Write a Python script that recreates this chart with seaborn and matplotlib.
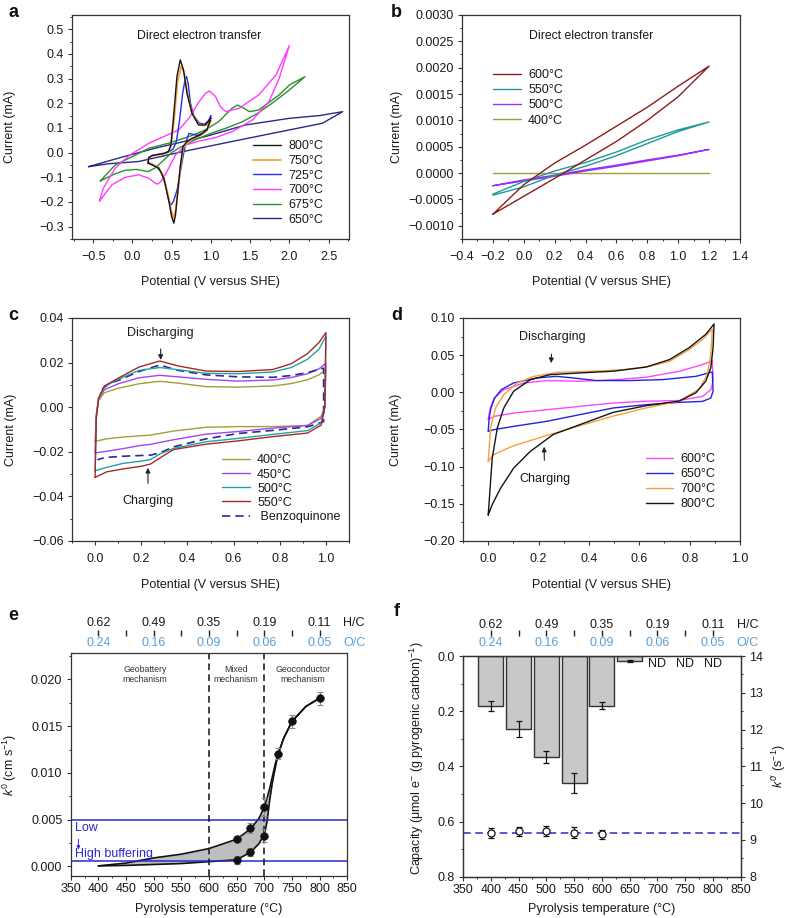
import matplotlib
matplotlib.use("Agg")
import matplotlib.pyplot as plt
import matplotlib.transforms as mtransforms
from matplotlib.ticker import MultipleLocator, FuncFormatter
import pandas as pd
import seaborn as sns

# ======================= DATA =======================
# ---- panel a (direct electron transfer, 650-800 C) ----
a_800_x = [0.20, 0.205, 0.25, 0.32, 0.40, 0.46, 0.49, 0.524, 0.567, 0.609, 0.651, 0.695, 0.758, 0.843, 0.928, 0.984, 1.00,
           0.95, 0.865, 0.758, 0.695, 0.643, 0.609, 0.58, 0.55, 0.528, 0.50, 0.465, 0.40, 0.336, 0.251, 0.20]
a_800_y = [-0.043, -0.022, -0.012, -0.008, -0.004, 0.005, 0.03, 0.146, 0.308, 0.376, 0.335, 0.241, 0.16, 0.112, 0.112, 0.133, 0.14,
           0.092, 0.072, 0.058, 0.045, 0.024, -0.057, -0.151, -0.25, -0.286, -0.26, -0.198, -0.104, -0.063, -0.05, -0.043]
a_750_x = [0.20, 0.205, 0.25, 0.32, 0.40, 0.46, 0.49, 0.53, 0.575, 0.625, 0.66, 0.70, 0.76, 0.84, 0.93, 0.98, 1.00,
           0.95, 0.87, 0.76, 0.70, 0.65, 0.615, 0.585, 0.55, 0.52, 0.49, 0.46, 0.40, 0.34, 0.25, 0.20]
a_750_y = [-0.042, -0.022, -0.013, -0.009, -0.004, 0.005, 0.025, 0.13, 0.29, 0.352, 0.32, 0.24, 0.16, 0.115, 0.11, 0.125, 0.13,
           0.09, 0.07, 0.055, 0.04, 0.02, -0.05, -0.14, -0.235, -0.265, -0.23, -0.18, -0.10, -0.062, -0.048, -0.042]
a_725_x = [0.20, 0.205, 0.25, 0.35, 0.45, 0.52, 0.56, 0.60, 0.64, 0.67, 0.69, 0.71, 0.74, 0.78, 0.85, 0.92, 0.97, 1.00,
           0.96, 0.90, 0.82, 0.76, 0.72, 0.70, 0.66, 0.62, 0.57, 0.52, 0.49, 0.46, 0.42, 0.37, 0.30, 0.24, 0.20]
a_725_y = [-0.04, -0.02, -0.012, -0.005, 0.0, 0.015, 0.045, 0.13, 0.24, 0.295, 0.308, 0.28, 0.20, 0.15, 0.12, 0.115, 0.13, 0.15,
           0.10, 0.08, 0.07, 0.075, 0.078, 0.06, 0.01, -0.06, -0.15, -0.20, -0.212, -0.19, -0.13, -0.08, -0.055, -0.045, -0.04]
a_700_x = [-0.42, -0.37, -0.22, -0.03, 0.21, 0.40, 0.59, 0.72, 0.85, 0.93, 0.98, 1.06, 1.12, 1.19, 1.36, 1.61, 1.83, 2.00,
           1.87, 1.74, 1.53, 1.27, 1.06, 0.85, 0.68, 0.55, 0.44, 0.36, 0.32, 0.28, 0.21, 0.08, -0.09, -0.26, -0.42]
a_700_y = [-0.196, -0.144, -0.063, -0.009, 0.038, 0.065, 0.092, 0.139, 0.207, 0.24, 0.25, 0.227, 0.186, 0.166, 0.18, 0.234, 0.315, 0.434,
           0.301, 0.207, 0.132, 0.085, 0.061, 0.047, 0.031, -0.009, -0.077, -0.118, -0.128, -0.122, -0.104, -0.09, -0.10, -0.13, -0.196]
a_675_x = [-0.41, -0.22, 0.0, 0.21, 0.46, 0.72, 0.93, 1.10, 1.27, 1.34, 1.42, 1.49, 1.61, 1.87, 2.00, 2.20,
           2.00, 1.80, 1.60, 1.40, 1.20, 1.00, 0.80, 0.60, 0.50, 0.40, 0.30, 0.20, 0.05, -0.10, -0.25, -0.41]
a_675_y = [-0.115, -0.05, -0.016, 0.018, 0.038, 0.065, 0.092, 0.126, 0.18, 0.193, 0.18, 0.166, 0.173, 0.234, 0.274, 0.308,
           0.254, 0.205, 0.16, 0.125, 0.10, 0.078, 0.052, 0.02, 0.0, -0.03, -0.06, -0.077, -0.068, -0.072, -0.09, -0.115]
a_650_x = [-0.56, -0.13, 0.29, 0.93, 1.44, 2.00, 2.38, 2.68,
           2.42, 2.00, 1.36, 0.64, 0.08, -0.30, -0.56]
a_650_y = [-0.057, -0.018, 0.018, 0.065, 0.112, 0.139, 0.15, 0.166,
           0.119, 0.092, 0.051, 0.004, -0.036, -0.045, -0.057]
a_labels = ["800°C", "750°C", "725°C", "700°C", "675°C", "650°C"]

# ---- panel b (direct electron transfer, 400-600 C) ----
b_x = [-0.2, 0.0, 0.2, 0.4, 0.6, 0.8, 1.0, 1.2]
b_xr = [1.2, 1.0, 0.8, 0.6, 0.4, 0.2, 0.0, -0.2]
b_600_up = [-0.00078, -0.00022, 0.00019, 0.00053, 0.00089, 0.00125, 0.00165, 0.00203]
b_600_dn = [0.00203, 0.00145, 0.00100, 0.00060, 0.00025, -0.00010, -0.00044, -0.00078]
b_550_up = [-0.00040, -0.00016, 0.00004, 0.00020, 0.00040, 0.00063, 0.00082, 0.00097]
b_550_dn = [0.00097, 0.00079, 0.00056, 0.00033, 0.00013, -0.00004, -0.00026, -0.00042]
b_500_up = [-0.00024, -0.00013, -0.00004, 0.00006, 0.00015, 0.00025, 0.00034, 0.00045]
b_500_dn = [0.00045, 0.00033, 0.00023, 0.00013, 0.00004, -0.00006, -0.00015, -0.00024]
b_400_up = [0, 0, 0, 0, 0, 0, 0, 0]
b_labels = ["600°C", "550°C", "500°C", "400°C"]

# ---- panel c (mediated, 400-550 C) ----
c_xu = [0.0, 0.005, 0.015, 0.04, 0.1, 0.19, 0.28, 0.36, 0.48, 0.62, 0.77, 0.85, 0.92, 0.97, 1.0]
c_xd = [1.0, 0.995, 0.98, 0.92, 0.77, 0.62, 0.48, 0.34, 0.28, 0.24, 0.2, 0.12, 0.05, 0.0]
c_550_up = [-0.0315, -0.005, 0.004, 0.0095, 0.013, 0.018, 0.0207, 0.0185, 0.0162, 0.016, 0.0169, 0.0195, 0.024, 0.029, 0.0335]
c_550_dn = [0.0335, 0.0, -0.008, -0.0116, -0.0132, -0.0151, -0.0166, -0.019, -0.0228, -0.0255, -0.0265, -0.0277, -0.029, -0.0315]
c_500_up = [-0.0285, -0.005, 0.004, 0.0092, 0.0125, 0.0165, 0.0178, 0.0168, 0.0152, 0.015, 0.0158, 0.0178, 0.0215, 0.026, 0.0318]
c_500_dn = [0.0318, 0.0, -0.007, -0.0105, -0.0122, -0.014, -0.0155, -0.0185, -0.021, -0.0235, -0.0242, -0.0252, -0.027, -0.0285]
c_450_up = [-0.0205, -0.004, 0.004, 0.0078, 0.0105, 0.0132, 0.0143, 0.0136, 0.0125, 0.0117, 0.0122, 0.0133, 0.015, 0.0172, 0.0197]
c_450_dn = [0.0197, 0.0, -0.005, -0.0082, -0.0094, -0.0109, -0.0121, -0.0146, -0.0158, -0.0167, -0.0171, -0.0186, -0.0198, -0.0205]
c_400_up = [-0.0153, -0.003, 0.003, 0.0065, 0.0085, 0.0105, 0.0116, 0.0108, 0.0092, 0.009, 0.0095, 0.0106, 0.0123, 0.0145, 0.0168]
c_400_dn = [0.0168, 0.0, -0.004, -0.0082, -0.0087, -0.0087, -0.009, -0.0107, -0.0118, -0.0125, -0.0128, -0.0134, -0.0142, -0.0153]
c_bq_xu = [0.03, 0.06, 0.1, 0.19, 0.28, 0.36, 0.48, 0.62, 0.77, 0.85, 0.92, 0.99]
c_bq_up = [0.008, 0.0105, 0.012, 0.016, 0.0189, 0.0165, 0.0145, 0.0136, 0.0134, 0.0142, 0.0155, 0.0175]
c_bq_xd = [0.99, 0.92, 0.77, 0.62, 0.48, 0.34, 0.28, 0.24, 0.12, 0.04, 0.01]
c_bq_dn = [-0.0065, -0.0088, -0.0104, -0.0118, -0.0142, -0.0178, -0.0205, -0.0215, -0.022, -0.0226, -0.0236]
c_labels = ["400°C", "450°C", "500°C", "550°C", " Benzoquinone"]

# ---- panel d (mediated, 600-800 C) ----
d_800_x = [0.0, 0.016, 0.036, 0.062, 0.101, 0.167, 0.246, 0.364, 0.496, 0.627, 0.72, 0.798, 0.864, 0.897,
           0.893, 0.884, 0.864, 0.825, 0.759, 0.627, 0.496, 0.364, 0.259, 0.167, 0.101, 0.049, 0.016, 0.0]
d_800_y = [-0.165, -0.0885, -0.0481, -0.021, 0.0014, 0.017, 0.0238, 0.0261, 0.0284, 0.034, 0.044, 0.06, 0.078, 0.092,
           0.06, 0.033, 0.015, -0.0005, -0.0117, -0.018, -0.027, -0.0435, -0.0566, -0.0795, -0.102, -0.129, -0.151, -0.165]
d_700_x = [0.0, 0.0094, 0.029, 0.062, 0.114, 0.18, 0.272, 0.404, 0.535, 0.641, 0.72, 0.798, 0.851, 0.89,
           0.884, 0.871, 0.838, 0.759, 0.627, 0.496, 0.364, 0.233, 0.10, 0.02, 0.0]
d_700_y = [-0.093, -0.048, -0.021, -0.0031, 0.0125, 0.0214, 0.0268, 0.0282, 0.0304, 0.0349, 0.0416, 0.0574, 0.071, 0.085,
           0.051, 0.0245, 0.0043, -0.0117, -0.021, -0.032, -0.045, -0.058, -0.072, -0.084, -0.093]
d_650_x = [0.0, 0.004, 0.011, 0.026, 0.052, 0.10, 0.193, 0.272, 0.338, 0.43, 0.562, 0.693, 0.825, 0.89,
           0.893, 0.884, 0.851, 0.759, 0.627, 0.496, 0.364, 0.233, 0.101, 0.022, 0.0]
d_650_y = [-0.0524, -0.034, -0.021, -0.0075, 0.0036, 0.0125, 0.0193, 0.0215, 0.0193, 0.0158, 0.0158, 0.0171, 0.0215, 0.0274,
           0.0013, -0.0077, -0.0122, -0.0135, -0.0166, -0.0211, -0.030, -0.039, -0.0458, -0.0503, -0.0524]
d_600_x = [0.0, 0.008, 0.024, 0.062, 0.141, 0.233, 0.364, 0.496, 0.627, 0.759, 0.851, 0.89,
           0.893, 0.884, 0.851, 0.759, 0.627, 0.496, 0.364, 0.233, 0.101, 0.022, 0.0]
d_600_y = [-0.0368, -0.021, -0.0075, 0.0036, 0.0125, 0.0158, 0.0149, 0.0167, 0.0203, 0.0283, 0.0373, 0.0427,
           0.0149, 0.0036, -0.0054, -0.011, -0.012, -0.0144, -0.0189, -0.0234, -0.0279, -0.0324, -0.0368]
d_labels = ["600°C", "650°C", "700°C", "800°C"]

# ---- panel e (k0 vs pyrolysis temperature) ----
e_temp_hi = [650, 675, 700, 725, 750, 800]
e_k_hi = [0.00295, 0.0041, 0.00634, 0.01204, 0.0155, 0.0180]
e_err_hi = [0.0003, 0.0005, 0.0010, 0.0006, 0.0007, 0.0007]
e_temp_lo = [650, 675, 700]
e_k_lo = [0.0007, 0.00153, 0.00327]
e_err_lo = [0.0004, 0.0004, 0.0007]
e_fit_x = [400, 450, 500, 550, 600, 625, 650, 675, 690, 700, 705, 710, 715, 720, 725, 735, 750, 775, 800]
e_fit_hi = [0.00005, 0.00035, 0.0009, 0.0013, 0.0019, 0.0024, 0.0029, 0.0040, 0.0051, 0.0063, 0.0073, 0.0084, 0.0097, 0.0110, 0.0120,
            0.0137, 0.0155, 0.0171, 0.0180]
e_fit_lo = [0.00005, 0.0001, 0.0002, 0.0003, 0.0005, 0.0006, 0.0007, 0.0015, 0.0024, 0.0034, 0.0048, 0.0072, 0.0091, 0.0106, 0.0120,
            0.0137, 0.0155, 0.0171, 0.0180]
e_buffer_levels = [0.005, 0.00055]
e_regime_bounds = [600, 700]
e_regime_x = [484, 649, 770]
e_regime_text = ["Geobattery\nmechanism", "Mixed\nmechanism", "Geoconductor\nmechanism"]

# ---- top scales (H/C, O/C) shared by e and f ----
top_temps = [400, 500, 600, 700, 800]
top_hc = ["0.62", "0.49", "0.35", "0.19", "0.11"]
top_oc = ["0.24", "0.16", "0.09", "0.06", "0.05"]
top_tick_temps = [400, 450, 500, 550, 600, 650, 700, 750, 800]

# ---- panel f (capacity bars + k0') ----
f_temps = [400, 450, 500, 550, 600, 650]
f_cap = [0.18, 0.266, 0.367, 0.459, 0.18, 0.018]
f_cap_err = [0.018, 0.029, 0.021, 0.036, 0.012, 0.002]
f_nd_temps = [700, 750, 800]
f_k_temps = [400, 450, 500, 550, 600]
f_k = [9.18, 9.23, 9.25, 9.2, 9.15]
f_k_err = [0.14, 0.12, 0.14, 0.14, 0.12]
f_k_mean = 9.18

# ======================= STYLE =======================
sns.set_theme(style="ticks")
plt.rcParams['font.family'] = ['Liberation Sans', 'DejaVu Sans']
FS = 9
plt.rcParams.update({
    'mathtext.fontset': 'custom',
    'mathtext.rm': 'Liberation Sans',
    'mathtext.it': 'Liberation Sans:italic',
    'mathtext.bf': 'Liberation Sans:bold',
    'axes.edgecolor': '#333333',
    'axes.linewidth': 0.9,
    'xtick.color': '#333333',
    'ytick.color': '#333333',
    'xtick.labelcolor': '#1a1a1a',
    'ytick.labelcolor': '#1a1a1a',
    'xtick.major.size': 3.0,
    'ytick.major.size': 3.0,
    'xtick.minor.size': 1.6,
    'ytick.minor.size': 1.6,
    'xtick.major.width': 0.8,
    'ytick.major.width': 0.8,
    'xtick.minor.width': 0.7,
    'ytick.minor.width': 0.7,
    'xtick.direction': 'out',
    'ytick.direction': 'out',
    'font.size': FS,
    'axes.labelsize': FS,
    'xtick.labelsize': FS,
    'ytick.labelsize': FS,
    'legend.fontsize': FS,
})

LW = 1.0
TXT = '#1a1a1a'


def fmt(nd):
    return FuncFormatter(lambda v, p: (f"{v:.{nd}f}").replace('-', '\u2212'))


def draw(ax, x, y, color, label=None, ls='-', lw=LW):
    df = pd.DataFrame({"E": x, "I": y})
    sns.lineplot(data=df, x="E", y="I", sort=False, estimator=None, color=color,
                 linewidth=lw, linestyle=ls, label=label, ax=ax)


def style_ax(ax, xmaj, xmin, ymaj, ymin, xnd, ynd, xpad=6.0, ypad=3.0):
    ax.xaxis.set_major_locator(MultipleLocator(xmaj))
    ax.xaxis.set_minor_locator(MultipleLocator(xmin))
    ax.yaxis.set_major_locator(MultipleLocator(ymaj))
    ax.yaxis.set_minor_locator(MultipleLocator(ymin))
    ax.xaxis.set_major_formatter(fmt(xnd))
    ax.yaxis.set_major_formatter(fmt(ynd))
    ax.tick_params(axis='x', which='both', top=False, pad=xpad)
    ax.tick_params(axis='y', which='both', right=False, pad=ypad)


def legend(ax, handles, labels, anchor, spacing=0.21):
    leg = ax.legend(handles, labels, loc='upper left', bbox_to_anchor=anchor, frameon=False,
                    fontsize=FS, handlelength=2.2, handletextpad=0.6, labelspacing=spacing,
                    borderpad=0, borderaxespad=0)
    for t in leg.get_texts():
        t.set_color(TXT)
    return leg


fig = plt.figure(figsize=(7.88, 9.18), dpi=100)
ax_a = fig.add_axes([0.0914, 0.7397, 0.3515, 0.2440])
ax_b = fig.add_axes([0.5863, 0.7397, 0.3528, 0.2440])
ax_c = fig.add_axes([0.0914, 0.4107, 0.3515, 0.2429])
ax_d = fig.add_axes([0.5876, 0.4107, 0.3515, 0.2429])
ax_e = fig.add_axes([0.0897, 0.0461, 0.3510, 0.2423])
ax_f = fig.add_axes([0.5876, 0.0450, 0.3524, 0.2404])

# ======================= PANEL A =======================
a_cols = {"800°C": '#151515', "750°C": '#f4a23a', "725°C": '#2b2be8',
          "700°C": '#ff3cff', "675°C": '#2f8f2f', "650°C": '#2a2a8a'}
draw(ax_a, a_650_x, a_650_y, a_cols["650°C"], "650°C")
draw(ax_a, a_675_x, a_675_y, a_cols["675°C"], "675°C")
draw(ax_a, a_700_x, a_700_y, a_cols["700°C"], "700°C")
draw(ax_a, a_725_x, a_725_y, a_cols["725°C"], "725°C")
draw(ax_a, a_750_x, a_750_y, a_cols["750°C"], "750°C", lw=1.3)
draw(ax_a, a_800_x, a_800_y, a_cols["800°C"], "800°C")
ax_a.set_xlim(-0.77, 2.76)
ax_a.set_ylim(-0.35, 0.558)
style_ax(ax_a, 0.5, 0.25, 0.1, 0.05, 1, 1)
h, l = ax_a.get_legend_handles_labels()
hd = dict(zip(l, h))
legend(ax_a, [hd[k] for k in a_labels], a_labels, (0.655, 0.44))
ax_a.text(0.458, 0.904, "Direct electron transfer", transform=ax_a.transAxes, ha='center', va='center',
          fontsize=8.8, color=TXT)
ax_a.set_xlabel("Potential (V versus SHE)", color=TXT)
ax_a.set_ylabel("Current (mA)", color=TXT)

# ======================= PANEL B =======================
b_cols = {"600°C": '#8e1c1c', "550°C": '#1f9a9a', "500°C": '#9a32f5', "400°C": '#a3a032'}
draw(ax_b, b_x, b_400_up, b_cols["400°C"], "400°C")
draw(ax_b, b_x + b_xr, b_500_up + b_500_dn, b_cols["500°C"], "500°C")
draw(ax_b, b_x + b_xr, b_550_up + b_550_dn, b_cols["550°C"], "550°C")
draw(ax_b, b_x + b_xr, b_600_up + b_600_dn, b_cols["600°C"], "600°C")
ax_b.set_xlim(-0.4, 1.4)
ax_b.set_ylim(-0.00125, 0.0030)
style_ax(ax_b, 0.2, 0.1, 0.0005, 0.00025, 1, 4)
h, l = ax_b.get_legend_handles_labels()
hd = dict(zip(l, h))
legend(ax_b, [hd[k] for k in b_labels], b_labels, (0.112, 0.758), spacing=0.25)
ax_b.text(0.463, 0.907, "Direct electron transfer", transform=ax_b.transAxes, ha='center', va='center',
          fontsize=8.8, color=TXT)
ax_b.set_xlabel("Potential (V versus SHE)", color=TXT)
ax_b.set_ylabel("Current (mA)", color=TXT)

# ======================= PANEL C =======================
c_cols = {"400°C": '#a39e35', "450°C": '#a444f2', "500°C": '#22a3a0', "550°C": '#a82828',
          " Benzoquinone": '#2a2a96'}
draw(ax_c, c_xu + c_xd, c_400_up + c_400_dn, c_cols["400°C"], "400°C")
draw(ax_c, c_xu + c_xd, c_450_up + c_450_dn, c_cols["450°C"], "450°C")
draw(ax_c, c_bq_xu + c_bq_xd, c_bq_up + c_bq_dn, c_cols[" Benzoquinone"], " Benzoquinone", ls=(0, (5, 3)), lw=1.2)
draw(ax_c, c_xu + c_xd, c_500_up + c_500_dn, c_cols["500°C"], "500°C")
draw(ax_c, c_xu + c_xd, c_550_up + c_550_dn, c_cols["550°C"], "550°C")
ax_c.set_xlim(-0.1, 1.1)
ax_c.set_ylim(-0.06, 0.04)
style_ax(ax_c, 0.2, 0.1, 0.02, 0.01, 1, 2)
h, l = ax_c.get_legend_handles_labels()
hd = dict(zip(l, h))
legend(ax_c, [hd[k] for k in c_labels], c_labels, (0.542, 0.388), spacing=0.17)
ax_c.annotate("Discharging", xy=(0.284, 0.0212), xytext=(0.284, 0.0334), ha='center', va='center',
              fontsize=FS, color=TXT,
              arrowprops=dict(arrowstyle='-|>', color='#222222', lw=0.8, mutation_scale=7, shrinkA=5, shrinkB=0))
ax_c.annotate("Charging", xy=(0.229, -0.0272), xytext=(0.229, -0.0421), ha='center', va='center',
              fontsize=FS, color=TXT,
              arrowprops=dict(arrowstyle='-|>', color='#222222', lw=0.8, mutation_scale=7, shrinkA=6, shrinkB=0))
ax_c.set_xlabel("Potential (V versus SHE)", color=TXT)
ax_c.set_ylabel("Current (mA)", color=TXT)

# ======================= PANEL D =======================
d_cols = {"600°C": '#ff45ff', "650°C": '#2424de', "700°C": '#f4a23a', "800°C": '#151515'}
draw(ax_d, d_600_x, d_600_y, d_cols["600°C"], "600°C")
draw(ax_d, d_650_x, d_650_y, d_cols["650°C"], "650°C")
draw(ax_d, d_700_x, d_700_y, d_cols["700°C"], "700°C")
draw(ax_d, d_800_x, d_800_y, d_cols["800°C"], "800°C")
ax_d.set_xlim(-0.1, 1.0)
ax_d.set_ylim(-0.20, 0.10)
style_ax(ax_d, 0.2, 0.1, 0.05, 0.025, 1, 2)
h, l = ax_d.get_legend_handles_labels()
hd = dict(zip(l, h))
legend(ax_d, [hd[k] for k in d_labels], d_labels, (0.66, 0.395), spacing=0.25)
ax_d.annotate("Discharging", xy=(0.25, 0.0393), xytext=(0.254, 0.075), ha='center', va='center',
              fontsize=FS, color=TXT,
              arrowprops=dict(arrowstyle='-|>', color='#222222', lw=0.8, mutation_scale=7, shrinkA=6, shrinkB=0))
ax_d.annotate("Charging", xy=(0.222, -0.0732), xytext=(0.224, -0.117), ha='center', va='center',
              fontsize=FS, color=TXT,
              arrowprops=dict(arrowstyle='-|>', color='#222222', lw=0.8, mutation_scale=7, shrinkA=7, shrinkB=0))
ax_d.set_xlabel("Potential (V versus SHE)", color=TXT)
ax_d.set_ylabel("Current (mA)", color=TXT)

# ======================= PANEL E =======================
ax_e.fill_between(e_fit_x, e_fit_lo, e_fit_hi, color='#bdbdbd', lw=0)
draw(ax_e, e_fit_x, e_fit_hi, '#111111', lw=1.2)
draw(ax_e, e_fit_x, e_fit_lo, '#111111', lw=1.2)
for lvl in e_buffer_levels:
    ax_e.axhline(lvl, color='#2a2ad0', lw=1.1)
for b in e_regime_bounds:
    ax_e.axvline(b, color='#222222', lw=1.2, ls=(0, (4, 2.5)))
ax_e.errorbar(e_temp_hi, e_k_hi, yerr=e_err_hi, fmt='none', ecolor='#8a8a8a', elinewidth=0.8, capsize=2.5, capthick=0.8)
ax_e.errorbar(e_temp_lo, e_k_lo, yerr=e_err_lo, fmt='none', ecolor='#8a8a8a', elinewidth=0.8, capsize=2.5, capthick=0.8)
sns.scatterplot(x=e_temp_hi + e_temp_lo, y=e_k_hi + e_k_lo, color='#111111', s=30, edgecolor='#111111',
                linewidth=0.5, ax=ax_e, zorder=5)
ax_e.set_xlim(350, 850)
ax_e.set_ylim(-0.001, 0.0228)
style_ax(ax_e, 50, 25, 0.005, 0.0025, 0, 3, xpad=2.5)
for xr, txt in zip(e_regime_x, e_regime_text):
    ax_e.text(xr, 0.0205, txt, ha='center', va='center', fontsize=6.3, color='#333333', linespacing=1.15)
ax_e.text(357, 0.0041, "Low", ha='left', va='center', fontsize=FS, color='#2a2ad0')
ax_e.text(357, 0.0013, "High buffering", ha='left', va='center', fontsize=FS, color='#2a2ad0')
ax_e.annotate("", xy=(364, 0.0018), xytext=(364, 0.0029),
              arrowprops=dict(arrowstyle='-|>', color='#2a2ad0', lw=0.7, mutation_scale=5, shrinkA=0, shrinkB=0))
ax_e.set_xlabel("Pyrolysis temperature (°C)", color=TXT)
ax_e.set_ylabel(r"$k^{\mathit{0}}$ (cm s$^{-1}$)", color=TXT)


def top_scale(ax, y_hc, y_tick, y_oc, dtick):
    trans = mtransforms.blended_transform_factory(ax.transData, ax.transAxes)
    for t, hcv, ocv in zip(top_temps, top_hc, top_oc):
        ax.text(t, y_hc, hcv, transform=trans, ha='center', va='center', fontsize=FS, color=TXT, clip_on=False)
        ax.text(t, y_oc, ocv, transform=trans, ha='center', va='center', fontsize=FS, color='#5b9fd6', clip_on=False)
    for t in top_tick_temps:
        ax.plot([t, t], [y_tick - dtick, y_tick + dtick], transform=trans, color='#222222', lw=1.0,
                clip_on=False, solid_capstyle='butt')
    ax.text(0.985, y_hc, "H/C", transform=ax.transAxes, ha='left', va='center', fontsize=FS, color=TXT)
    ax.text(0.985, y_oc, "O/C", transform=ax.transAxes, ha='left', va='center', fontsize=FS, color='#5b9fd6')


top_scale(ax_e, 1.136, 1.091, 1.045, 0.013)

# ======================= PANEL F =======================
sns.barplot(x=f_temps, y=f_cap, native_scale=True, width=0.9, color='#c8c8c8', saturation=1,
            edgecolor='#333333', linewidth=1.0, errorbar=None, ax=ax_f)
ax_f.errorbar(f_temps, f_cap, yerr=f_cap_err, fmt='none', ecolor='#111111', elinewidth=0.9, capsize=2.5, capthick=0.9)
ax_f.set_xlim(350, 850)
ax_f.set_ylim(0.8, 0.0)
style_ax(ax_f, 50, 25, 0.2, 0.1, 0, 1, xpad=2.5)
for t in f_nd_temps:
    ax_f.text(t, 0.030, "ND", ha='center', va='center', fontsize=FS, color=TXT)
ax_f.set_xlabel("Pyrolysis temperature (°C)", color=TXT)
ax_f.set_ylabel("Capacity (μmol e$^{-}$ (g pyrogenic carbon)$^{-1}$)", color=TXT)

ax_f2 = ax_f.twinx()
ax_f2.axhline(f_k_mean, color='#2a2ad0', lw=1.1, ls=(0, (5, 3)))
ax_f2.errorbar(f_k_temps, f_k, yerr=f_k_err, fmt='none', ecolor='#111111', elinewidth=0.9, capsize=2.5, capthick=0.9)
sns.scatterplot(x=f_k_temps, y=f_k, color='white', edgecolor='#111111', s=26, linewidth=0.9, ax=ax_f2, zorder=5)
ax_f2.set_ylim(8, 14)
ax_f2.yaxis.set_major_locator(MultipleLocator(1))
ax_f2.yaxis.set_minor_locator(MultipleLocator(0.5))
ax_f2.yaxis.set_major_formatter(fmt(0))
ax_f2.tick_params(axis='y', which='both', direction='out', pad=3)
ax_f2.set_ylabel(r"$k^{\mathit{0\prime}}$ (s$^{-1}$)", color=TXT)
ax_f2.yaxis.set_label_coords(1.105, 0.5)
top_scale(ax_f, 1.14, 1.104, 1.058, 0.013)

# ---- label positions ----
ax_a.xaxis.set_label_coords(0.5, -0.165)
ax_b.xaxis.set_label_coords(0.5, -0.164)
ax_c.xaxis.set_label_coords(0.5, -0.172)
ax_d.xaxis.set_label_coords(0.5, -0.172)
ax_e.xaxis.set_label_coords(0.5, -0.124)
ax_f.xaxis.set_label_coords(0.5, -0.12)
ax_a.yaxis.set_label_coords(-0.202, 0.5)
ax_b.yaxis.set_label_coords(-0.214, 0.5)
ax_c.yaxis.set_label_coords(-0.200, 0.5)
ax_d.yaxis.set_label_coords(-0.222, 0.5)
ax_e.yaxis.set_label_coords(-0.188, 0.5)
ax_f.yaxis.set_label_coords(-0.133, 0.535)

for lab, x, y in [("a", 0.0165, 0.986), ("b", 0.503, 0.986), ("c", 0.0165, 0.656),
                  ("d", 0.503, 0.656), ("e", 0.0165, 0.330), ("f", 0.503, 0.334)]:
    fig.text(x, y, lab, fontsize=13, fontweight='bold', ha='center', va='center', color='#111111')

fig.savefig("out.png", dpi=100)
